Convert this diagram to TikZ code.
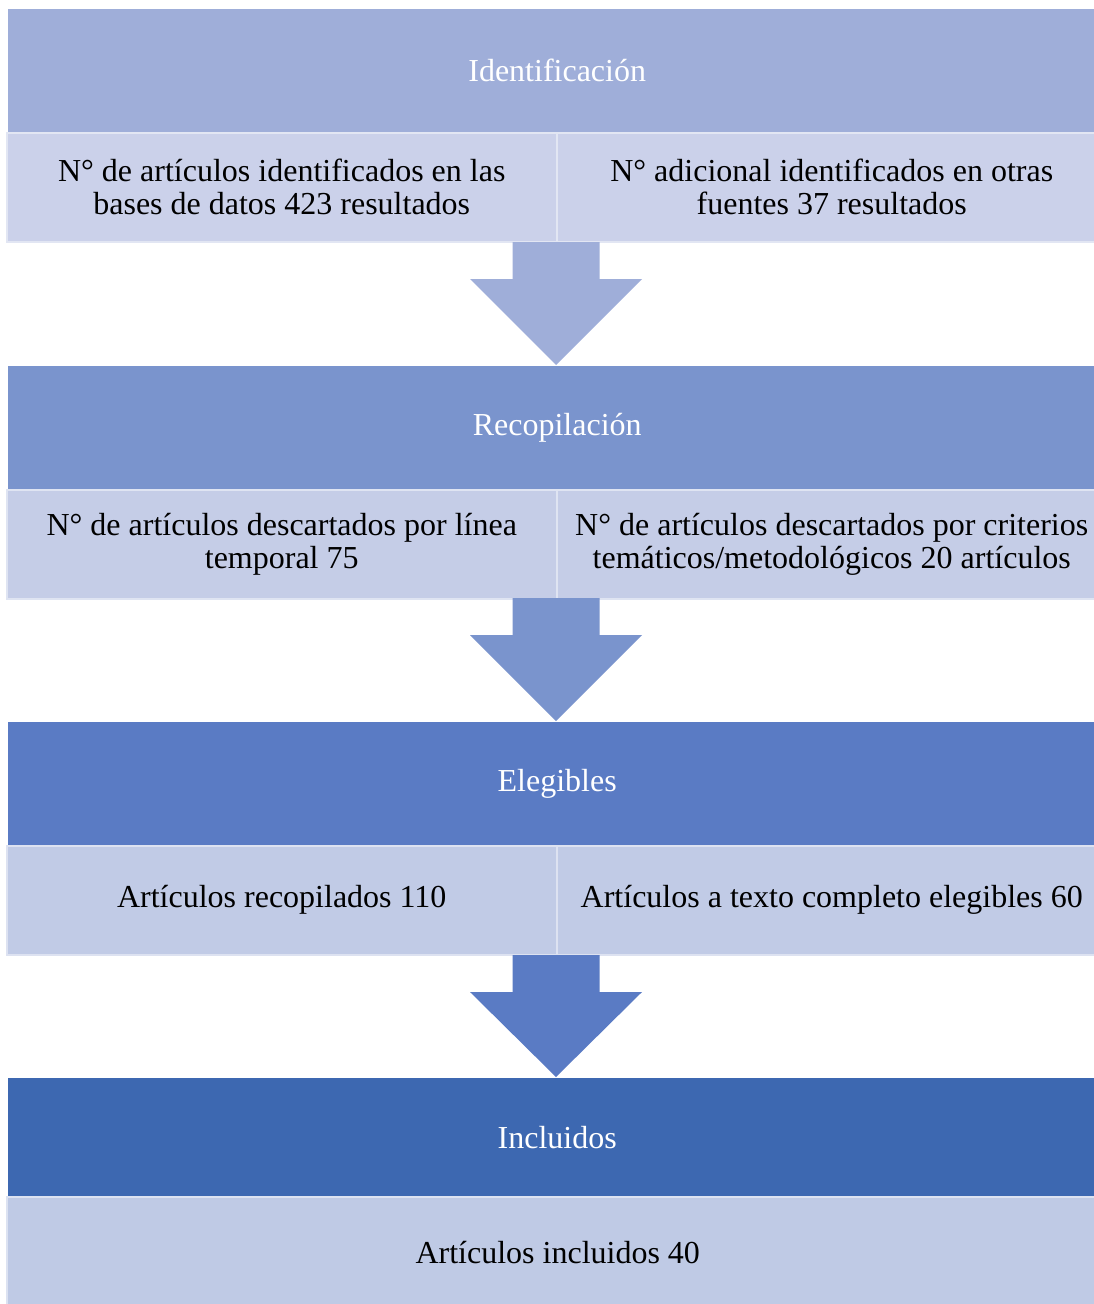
\documentclass[tikz,border=0pt]{standalone}
\usepackage{fontspec}
\setmainfont{Liberation Serif}
\usetikzlibrary{calc}
\definecolor{hA}{HTML}{9FAED9}
\definecolor{hB}{HTML}{7A94CD}
\definecolor{hC}{HTML}{5A7BC4}
\definecolor{hD}{HTML}{3D68B1}
\definecolor{sA}{HTML}{CBD1EA}
\definecolor{sB}{HTML}{C5CDE7}
\definecolor{sC}{HTML}{C1CBE6}
\definecolor{sD}{HTML}{BFCAE5}
\tikzset{
  x=1pt,y=-1pt,
  hdr/.style={fill=#1, draw=none, minimum width=1098pt, minimum height=123pt, inner sep=0pt,
    text=white, font=\fontsize{32}{33}\selectfont, anchor=north west},
  sub/.style={fill=#1, draw=white!45!#1, line width=1.5pt, minimum width=550pt, minimum height=109pt,
    inner sep=0pt, text=black, align=center, font=\fontsize{32}{33}\selectfont, anchor=north west},
}
\newcommand{\barrow}[3]{% block arrow from (#1) to tip (#2), colour #3
  \fill[#3] ($(#1)+(-43.5,0)$) -- ($(#1)+(43.5,0)$) -- ($(#1)+(43.5,37)$) -- ($(#1)+(86,37)$)
     -- (#2) -- ($(#1)+(-86,37)$) -- ($(#1)+(-43.5,37)$) -- cycle;}
\begin{document}
\begin{tikzpicture}
\useasboundingbox[fill=white] (0,0) rectangle (1094,1304);
% level 1
\node[hdr=hA] (h1) at (8,9) {Identificación};
\node[sub=sA] (s1a) at (6,132) {N° de artículos identificados en las\\bases de datos 423 resultados};
\node[sub=sA] (s1b) at (556,132) {N° adicional identificados en otras\\fuentes 37 resultados};
% level 2
\node[hdr=hB] (h2) at (8,366) {Recopilación};
\node[sub=sB] (s2a) at (6,489) {N° de artículos descartados por línea\\temporal 75};
\node[sub=sB] (s2b) at (556,489) {N° de artículos descartados por criterios\\temáticos/metodológicos 20 artículos};
% level 3
\node[hdr=hC] (h3) at (8,722) {Elegibles};
\node[sub=sC] (s3a) at (6,845) {Artículos recopilados 110};
\node[sub=sC] (s3b) at (556,845) {Artículos a texto completo elegibles 60};
% level 4
\node[hdr=hD, minimum height=118pt] (h4) at (8,1078) {Incluidos};
\node[sub=sD, minimum width=1102pt, minimum height=112pt] (s4) at (6,1196) {Artículos incluidos 40};
% arrows
\coordinate (a1) at (556,242);
\coordinate (t1) at (556,365);
\coordinate (a2) at (556,598);
\coordinate (t2) at (556,721);
\coordinate (a3) at (556,955);
\coordinate (t3) at (556,1077);
\barrow{a1}{t1}{hA}
\barrow{a2}{t2}{hB}
\barrow{a3}{t3}{hC}
\end{tikzpicture}
\end{document}
